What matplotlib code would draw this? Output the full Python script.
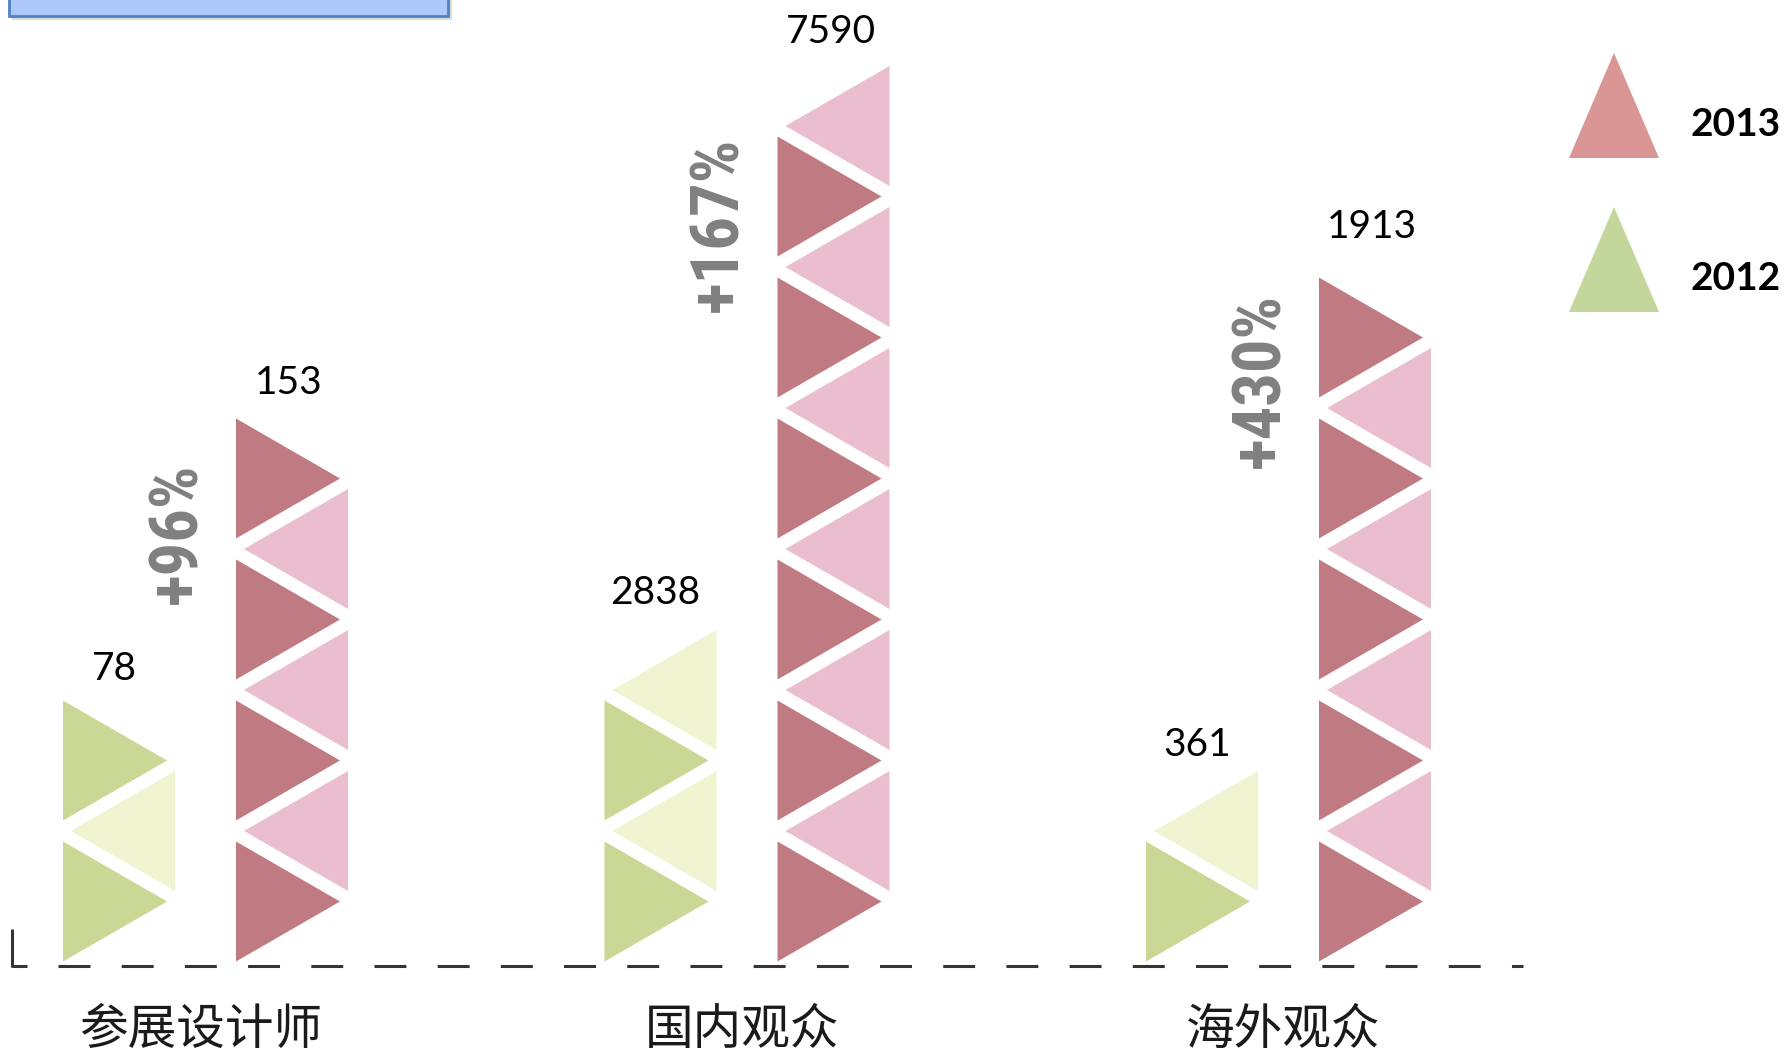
import matplotlib
matplotlib.use("Agg")
import matplotlib.pyplot as plt
from matplotlib.patches import Polygon, Rectangle

plt.rcParams['lines.scale_dashes'] = False

# ---------------- data ----------------
categories = ['参展设计师', '国内观众', '海外观众']
values_2012 = [78, 2838, 361]
values_2013 = [153, 7590, 1913]
icons_2012 = [3, 4, 2]      # number of triangle icons drawn per column
icons_2013 = [7, 12, 9]
legend_years = ['2013', '2012']

# ---------------- style ----------------
col12 = ('#cbd794', '#f1f4d0')   # dark, light
col13 = ('#bf7b81', '#eabece')
legend_cols = ['#d99694', '#c3d69b']

W, H = 1785, 1057
fig = plt.figure(figsize=(W / 100, H / 100), dpi=100)
ax = fig.add_axes([0, 0, 1, 1])
ax.set_xlim(0, W)
ax.set_ylim(H, 0)
ax.axis('off')

BASE_Y = 961.5
TRI_H = 120
STEP = 70.5
TRI_W = 104
COL_W = 112
GROUP_X0 = 63
GROUP_DX = 541.5
OFF13 = 173


def draw_column(x0, n, cols):
    for k in range(n):
        bottom = BASE_Y - k * STEP
        top = bottom - TRI_H
        mid = (bottom + top) / 2
        if k % 2 == 0:
            pts = [(x0, bottom), (x0, top), (x0 + TRI_W, mid)]
            c = cols[0]
        else:
            pts = [(x0 + COL_W, bottom), (x0 + COL_W, top), (x0 + COL_W - TRI_W, mid)]
            c = cols[1]
        ax.add_patch(Polygon(pts, closed=True, facecolor=c, edgecolor='none', zorder=2))
    return BASE_Y - (n - 1) * STEP - TRI_H


num_font = ['Lato', 'DejaVu Sans']
pct_font = ['Liberation Sans Narrow', 'Roboto Condensed', 'DejaVu Sans']
pct_y = [533, 224, 380]
val_gap = [32, 36, 37, 34, 26, 50]

for i, cat in enumerate(categories):
    gx = GROUP_X0 + i * GROUP_DX
    x12 = gx
    x13 = gx + OFF13
    t12 = draw_column(x12, icons_2012[i], col12)
    t13 = draw_column(x13, icons_2013[i], col13)
    ax.text(x12 + COL_W / 2 - 5, t12 - val_gap[2 * i], f"{values_2012[i]}", ha='center', va='center',
            fontsize=28, family=num_font, color='black', zorder=3)
    ax.text(x13 + COL_W / 2 - 3, t13 - val_gap[2 * i + 1], f"{values_2013[i]}", ha='center', va='center',
            fontsize=28, family=num_font, color='black', zorder=3)
    pct = round((values_2013[i] / values_2012[i] - 1) * 100)
    ax.text(x13 - 58, pct_y[i], f"+{pct}%", rotation=90, ha='center', va='center',
            fontsize=48, fontweight='heavy', family=pct_font, color='#808080', zorder=3)
    ax.text((x12 + x13 + COL_W) / 2 - 5, 1030, cat, ha='center', va='center',
            fontsize=35, family=['Noto Sans CJK SC', 'DejaVu Sans'], color='#1a1a1a')

# baseline
ax.plot([12, 12, 27], [929, 966, 966], color='#3a3232', lw=2.2, solid_capstyle='butt', zorder=1)
ax.plot([58, 1523], [966, 966], color='#3a3232', lw=2.2, linestyle=(0, (23, 22.5)),
        dash_capstyle='butt', zorder=1)

# top-left blue box
ax.add_patch(Rectangle((12, -20), 440, 40, facecolor='#9a9a9a', edgecolor='none', alpha=0.35, zorder=1))
ax.add_patch(Rectangle((9, -20), 439, 36, facecolor='#adc9fb', edgecolor='#4f81bd', lw=2, zorder=2))

# legend
leg_apex = [53, 207]
for j, yr in enumerate(legend_years):
    a = leg_apex[j]
    ax.add_patch(Polygon([(1569, a + 105), (1659, a + 105), (1614, a)], closed=True,
                         facecolor=legend_cols[j], edgecolor='none'))
    ax.text(1736, a + 72, yr, ha='center', va='center', fontsize=28, fontweight='bold',
            family=num_font, color='black')

fig.savefig('out.png', dpi=100)
